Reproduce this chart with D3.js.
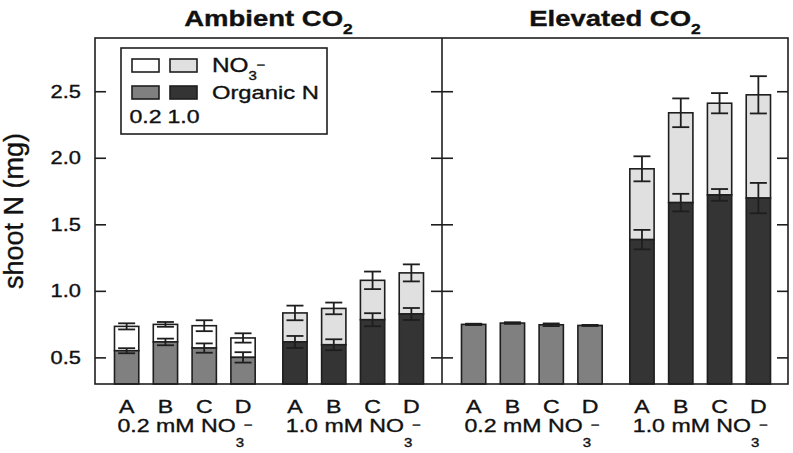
<!DOCTYPE html>
<html>
<head>
<meta charset="utf-8">
<script src="https://cdn.jsdelivr.net/npm/d3@7"></script>
<style>
html,body{margin:0;padding:0;background:#fff;}
svg{display:block;}
text{font-family:"Liberation Sans",Arial,Helvetica,sans-serif;fill:#111;stroke:#111;stroke-width:0.35px;}
</style>
</head>
<body>
<svg id="chart" width="793" height="453"></svg>
<script>
// ---------- data ----------
const panels = ["Ambient", "Elevated"];
const levels = ["0.2", "1.0"];
const categories = ["A", "B", "C", "D"];
const yTicks = [0.5, 1.0, 1.5, 2.0, 2.5];
const yTickLabels = ["0.5", "1.0", "1.5", "2.0", "2.5"];

// Ambient CO2
const ambOrg02    = [0.550, 0.616, 0.570, 0.500];
const ambOrg02Err = [0.019, 0.025, 0.035, 0.039];
const ambTot02    = [0.733, 0.748, 0.738, 0.646];
const ambTot02Err = [0.023, 0.018, 0.041, 0.035];
const ambOrg10    = [0.616, 0.595, 0.783, 0.826];
const ambOrg10Err = [0.045, 0.041, 0.049, 0.045];
const ambTot10    = [0.834, 0.868, 1.079, 1.135];
const ambTot10Err = [0.055, 0.044, 0.066, 0.064];
// Elevated CO2
const eleOrg02    = [0.748, 0.758, 0.745, 0.740];
const eleOrg02Err = [0.005, 0.006, 0.010, 0.004];
const eleTot02    = [0.748, 0.758, 0.745, 0.740];
const eleTot02Err = [0, 0, 0, 0];
const eleOrg10    = [1.385, 1.663, 1.721, 1.697];
const eleOrg10Err = [0.073, 0.066, 0.044, 0.114];
const eleTot10    = [1.917, 2.338, 2.410, 2.473];
const eleTot10Err = [0.094, 0.108, 0.076, 0.140];

const organicColor = {"0.2": "#808080", "1.0": "#343434"};
const nitrateColor = {"0.2": "#ffffff", "1.0": "#e0e0e0"};

// ---------- layout ----------
const svg = d3.select("#chart");
const S = 1.25;               // horizontal text stretch
const plotTop = 38, plotBottom = 384;
const panelLeft = [95, 442];
const rightEdge = 788;
const ink = "#1e1e1e";

const y = d3.scaleLinear().domain([0.3, 2.9]).range([plotBottom, plotTop]);
const xGroup = d3.scaleBand().domain(levels).range([0, 348]).paddingInner(0.078).paddingOuter(0.0727);
const xCat = d3.scaleBand().domain(categories).range([0, xGroup.bandwidth()]).paddingInner(0.374).paddingOuter(0.187);

function stext(parent, x, yy, anchor, size, weight) {
  return parent.append("text")
    .attr("transform", `translate(${x},${yy}) scale(${S},1)`)
    .attr("text-anchor", anchor)
    .style("font-size", size + "px")
    .style("font-weight", weight || "normal");
}

const dataSets = {
  "Ambient": {
    "0.2": {org: ambOrg02, orgErr: ambOrg02Err, tot: ambTot02, totErr: ambTot02Err},
    "1.0": {org: ambOrg10, orgErr: ambOrg10Err, tot: ambTot10, totErr: ambTot10Err}
  },
  "Elevated": {
    "0.2": {org: eleOrg02, orgErr: eleOrg02Err, tot: eleTot02, totErr: eleTot02Err},
    "1.0": {org: eleOrg10, orgErr: eleOrg10Err, tot: eleTot10, totErr: eleTot10Err}
  }
};

panels.forEach((p, pi) => {
  const g = svg.append("g").attr("transform", `translate(${panelLeft[pi]},0)`);
  levels.forEach(lv => {
    const d = dataSets[p][lv];
    const rows = categories.map((c, i) => ({c, org: d.org[i], orgErr: d.orgErr[i], tot: d.tot[i], totErr: d.totErr[i]}));
    const gg = g.append("g").attr("transform", `translate(${xGroup(lv)},0)`);
    const bw = xCat.bandwidth();
    gg.selectAll("rect.nit").data(rows.filter(r => r.tot > r.org)).join("rect")
      .attr("class", "nit")
      .attr("x", r => xCat(r.c)).attr("width", bw)
      .attr("y", r => y(r.tot)).attr("height", r => y(r.org) - y(r.tot))
      .attr("fill", nitrateColor[lv]).attr("stroke", ink).attr("stroke-width", 1.6);
    gg.selectAll("rect.org").data(rows).join("rect")
      .attr("class", "org")
      .attr("x", r => xCat(r.c)).attr("width", bw)
      .attr("y", r => y(r.org)).attr("height", r => y(0.3) - y(r.org))
      .attr("fill", organicColor[lv]).attr("stroke", ink).attr("stroke-width", 1.6);
    const errs = [];
    rows.forEach(r => {
      errs.push({c: r.c, v: r.org, e: r.orgErr});
      if (r.tot > r.org) errs.push({c: r.c, v: r.tot, e: r.totErr});
    });
    const cap = 8.5;
    const eg = gg.selectAll("g.err").data(errs).join("g").attr("class", "err")
      .attr("transform", e => `translate(${xCat(e.c) + bw / 2},0)`);
    eg.append("line").attr("x1", 0).attr("x2", 0)
      .attr("y1", e => y(e.v + e.e)).attr("y2", e => y(e.v - e.e))
      .attr("stroke", ink).attr("stroke-width", 1.8);
    eg.append("line").attr("x1", -cap).attr("x2", cap)
      .attr("y1", e => y(e.v + e.e)).attr("y2", e => y(e.v + e.e))
      .attr("stroke", ink).attr("stroke-width", 1.8);
    eg.append("line").attr("x1", -cap).attr("x2", cap)
      .attr("y1", e => y(e.v - e.e)).attr("y2", e => y(e.v - e.e))
      .attr("stroke", ink).attr("stroke-width", 1.8);
    rows.forEach(r => {
      stext(gg, xCat(r.c) + bw / 2, 413, "middle", 18.5).text(r.c);
    });
    const gl = stext(gg, xGroup.bandwidth() / 2, 432, "middle", 18.5);
    gl.append("tspan").text(lv + " mM NO");
    gl.append("tspan").attr("dy", 15).style("font-size", "12px").text("3");
    gl.append("tspan").attr("dy", -18).attr("dx", -0.5).style("font-size", "12px").text("\u2212");
  });

  const leftAx = d3.axisRight(y).tickValues(yTicks).tickSize(11).tickFormat("");
  const rightAx = d3.axisLeft(y).tickValues(yTicks).tickSize(11).tickFormat("");
  const pr = pi === 0 ? panelLeft[1] : rightEdge;
  const a1 = svg.append("g").attr("transform", `translate(${panelLeft[pi]},0)`).call(leftAx);
  const a2 = svg.append("g").attr("transform", `translate(${pr},0)`).call(rightAx);
  [a1, a2].forEach(a => {
    a.select(".domain").remove();
    a.selectAll(".tick line").attr("stroke", ink).attr("stroke-width", 1.6);
  });

  const cx = (panelLeft[pi] + pr) / 2;
  const t = stext(svg, cx, 26, "middle", 22, "bold");
  t.append("tspan").text(p + " CO");
  t.append("tspan").attr("dy", 8).style("font-size", "14px").text("2");
});

svg.append("rect").attr("x", panelLeft[0]).attr("y", plotTop)
  .attr("width", rightEdge - panelLeft[0]).attr("height", plotBottom - plotTop)
  .attr("fill", "none").attr("stroke", ink).attr("stroke-width", 1.6);
svg.append("line").attr("x1", panelLeft[1]).attr("x2", panelLeft[1])
  .attr("y1", plotTop).attr("y2", plotBottom).attr("stroke", ink).attr("stroke-width", 1.6);

yTicks.forEach((v, i) => {
  stext(svg, 81, y(v) + 6.5, "end", 17.5).text(yTickLabels[i]);
});

svg.append("text")
  .attr("transform", `translate(23,${(plotTop + plotBottom) / 2}) rotate(-90)`)
  .attr("text-anchor", "middle")
  .style("font-size", "27px")
  .text("shoot N (mg)");

const lg = svg.append("g");
lg.append("rect").attr("x", 121).attr("y", 48).attr("width", 206).attr("height", 86)
  .attr("fill", "#fff").attr("stroke", ink).attr("stroke-width", 1.6);
const swX = {"0.2": 132, "1.0": 170};
levels.forEach(lv => {
  lg.append("rect").attr("x", swX[lv]).attr("y", 59).attr("width", 27).attr("height", 13)
    .attr("fill", nitrateColor[lv]).attr("stroke", ink).attr("stroke-width", 1.6);
  lg.append("rect").attr("x", swX[lv]).attr("y", 86).attr("width", 27).attr("height", 13)
    .attr("fill", organicColor[lv]).attr("stroke", ink).attr("stroke-width", 1.6);
  stext(lg, swX[lv] + 13.5, 123, "middle", 18.5).text(lv);
});
const ln = stext(lg, 212, 72, "start", 19.5);
ln.append("tspan").text("NO");
ln.append("tspan").attr("dy", 8).style("font-size", "12px").text("3");
ln.append("tspan").attr("dy", -11).attr("dx", -0.5).style("font-size", "12px").text("\u2212");
stext(lg, 212, 99, "start", 19).text("Organic N");
</script>
</body>
</html>
